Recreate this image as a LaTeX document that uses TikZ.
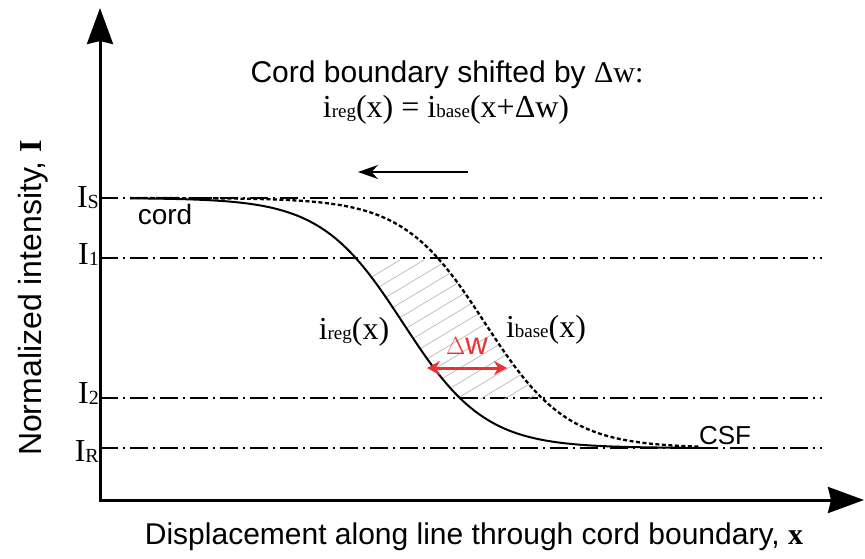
\documentclass[tikz,border=0pt]{standalone}
\usepackage{fontspec}
\setmainfont{Liberation Serif}
\setsansfont{Liberation Sans}
\usetikzlibrary{arrows.meta}
\definecolor{dwred}{RGB}{235,50,50}
\newcommand\Isub[2]{#1\raisebox{-1pt}{\fontsize{20}{20}\selectfont #2}}
\newcommand\isub[2]{#1{\fontsize{19}{19}\selectfont #2}}
\begin{document}
\begin{tikzpicture}[x=1pt,y=-1pt,
  declare function={fs(\x)=448-250/(1+exp((\x-403)/41)); fd(\x)=448-250/(1+exp((\x-485)/41));},
  axis/.style={line width=3pt,-{Stealth[length=36pt,width=26pt,inset=3pt]}},
  level/.style={line width=1.3pt,dash pattern=on 18pt off 5pt on 2pt off 5pt},
  solidc/.style={line width=2pt},
  dashc/.style={line width=2.3pt,dash pattern=on 4pt off 2.5pt},
  hatch/.style={gray!60,line width=0.6pt},
  sans/.style={font=\sffamily\fontsize{30}{34}\selectfont},
  serif/.style={font=\rmfamily\fontsize{32}{36}\selectfont},
  lvl/.style={font=\rmfamily\fontsize{32}{34}\selectfont,anchor=east,inner sep=1pt}
]
\useasboundingbox (0,0) rectangle (865,558);
\fill[white] (0,0) rectangle (865,558);
% axes
\coordinate (O) at (100,500);
\coordinate (ytop) at (100,8);
\coordinate (xend) at (864,500);
\draw[axis] (O) -- (ytop);
\draw[axis] ([xshift=-1.5pt]O) -- (xend);
% levels
\foreach \n/\yy in {S/198,one/258,two/398,R/448}{
  \coordinate (L\n a) at (100,\yy);
  \coordinate (L\n b) at (822,\yy);
  \draw[level] (L\n a) -- (L\n b);
}
\node[lvl] (lS) at ([yshift=0pt]LSa) {\Isub{I}{S}};
\node[lvl] (l1) at ([yshift=3pt]Lonea) {\Isub{I}{1}};
\node[lvl] (l2) at ([yshift=4pt]Ltwoa) {\Isub{I}{2}};
\node[lvl] (lR) at ([yshift=-4pt]LRa) {\Isub{I}{R}};
% hatch
\begin{scope}
  \clip (0,258) rectangle (865,398);
  \clip plot[domain=320:490,samples=60] (\x,{fs(\x)}) -- plot[domain=580:400,samples=60] (\x,{fd(\x)}) -- cycle;
  \foreach \k in {150,174,...,620}{
    \draw[hatch] (\k,410) -- ++(250,-150);
  }
\end{scope}
% curves
\draw[dashc] plot[domain=130:700,samples=120] (\x,{fd(\x)});
\draw[solidc] plot[domain=130:700,samples=120] (\x,{fs(\x)});
% delta w arrow
\coordinate (dwL) at (427,368);
\coordinate (dwR) at (507,368);
\draw[dwred,line width=3pt,{Stealth[length=13pt,width=14pt]}-{Stealth[length=13pt,width=14pt]}] (dwL) -- (dwR);
\node[sans,text=dwred,font=\sffamily\fontsize{31}{34}\selectfont] (dwlbl) at (467,346) {$\Delta$w};
% curve labels
\node[serif] (ireg) at (354,332) {\isub{i}{reg}(x)};
\node[serif] (ibase) at (546,330) {\isub{i}{base}(x)};
\node[sans,font=\sffamily\fontsize{28}{30}\selectfont] (cord) at (165,214) {cord};
\node[sans,font=\sffamily\fontsize{26}{28}\selectfont] (csf) at (725,436) {CSF};
% title
\node[sans] (title) at (447,75) {Cord boundary shifted by \rmfamily Δw:};
\node[serif] (eq) at (446,110) {\isub{i}{reg}(x) = \isub{i}{base}(x+Δw)};
% shift arrow
\coordinate (sa) at (468,172);
\coordinate (sb) at (358,172);
\draw[line width=1.5pt,-{Stealth[length=20pt,width=14pt]}] (sa) -- (sb);
% axis labels
\node[sans,font=\sffamily\fontsize{32}{34}\selectfont,rotate=90] (ylab) at (33,298) {Normalized intensity, \rmfamily\bfseries I};
\node[sans] (xlab) at (474,537) {Displacement along line through cord boundary, \rmfamily\bfseries x};
\end{tikzpicture}
\end{document}
